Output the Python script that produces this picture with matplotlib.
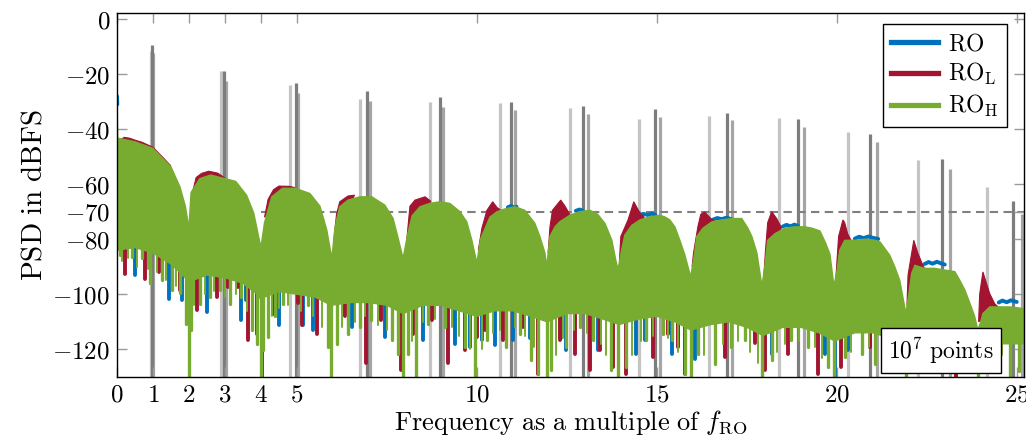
import numpy as np
import matplotlib.pyplot as plt
from matplotlib.lines import Line2D

plt.rcParams['mathtext.fontset'] = 'cm'
plt.rcParams['font.family'] = 'serif'
plt.rcParams['font.size'] = 17

# colours of the three readout variants
c_ro = '#0072BD'
c_rol = '#A2142F'
c_roh = '#77AC30'

# upper envelope of the PSD (RO_H), frequency in multiples of f_RO, level in dBFS
env_x = [0.0, 0.02, 0.5, 1.0, 1.5, 1.75, 1.9, 2.0,
         2.06, 2.3, 2.6, 3.0, 3.3, 3.6, 3.8, 3.95, 4.0,
         4.1, 4.3, 4.6, 4.95, 5.36, 5.64, 5.83, 5.97,
         6.06, 6.19, 6.42, 6.75, 7.08, 7.44, 7.67, 7.8, 7.95,
         8.08, 8.2, 8.42, 8.69, 8.97, 9.25, 9.53, 9.72, 9.86, 10.0,
         10.1, 10.36, 10.56, 10.78, 11.06, 11.33, 11.61, 11.75, 11.89, 11.94,
         12.03, 12.17, 12.3, 12.58, 12.86, 13.14, 13.36, 13.56, 13.75, 13.86, 13.92,
         14.02, 14.11, 14.3, 14.53, 14.8, 15.08, 15.22, 15.36, 15.5, 15.64, 15.78, 15.94,
         16.04, 16.11, 16.28, 16.53, 16.8, 17.08, 17.36, 17.53, 17.64, 17.78, 17.92,
         18.0, 18.08, 18.28, 18.56, 18.83, 19.11, 19.31, 19.53, 19.69, 19.81, 19.92,
         20.0, 20.08, 20.22, 20.5, 20.78, 21.06, 21.2, 21.33, 21.47, 21.61, 21.75, 21.92,
         22.0, 22.08, 22.17, 22.44, 22.72, 23.0, 23.28, 23.42, 23.56, 23.69, 23.83, 23.92,
         24.0, 24.06, 24.25, 24.53, 24.8, 25.2]
ro_h_top = [-29.5, -43.3, -44.6, -47.0, -53.7, -61.0, -68.0, -76.0,
            -63.0, -58.0, -56.7, -58.0, -59.0, -64.0, -70.5, -80.0, -83.0,
            -74.0, -64.6, -61.5, -61.5, -63.4, -68.0, -76.7, -87.0,
            -75.5, -68.2, -65.8, -64.6, -64.6, -67.6, -72.4, -79.0, -87.0,
            -78.0, -71.5, -68.2, -67.0, -66.4, -67.0, -70.0, -73.7, -80.4, -88.7,
            -80.0, -72.0, -70.0, -69.0, -68.2, -69.5, -74.2, -79.0, -85.0, -90.0,
            -79.0, -75.5, -73.7, -71.3, -70.0, -69.5, -71.0, -74.3, -80.4, -87.6, -91.0,
            -84.0, -78.5, -75.0, -73.0, -71.9, -71.3, -71.9, -73.0, -75.5, -80.4, -85.8, -93.7,
            -86.0, -79.0, -76.0, -73.7, -73.0, -72.5, -72.5, -76.0, -79.0, -85.0, -97.0,
            -90.0, -80.4, -78.0, -76.0, -75.5, -75.5, -76.0, -77.0, -81.4, -85.5, -97.0,
            -92.0, -84.0, -80.4, -80.4, -80.0, -80.4, -81.0, -83.3, -85.8, -90.0, -95.0, -107.0,
            -100.0, -92.4, -89.5, -90.6, -90.6, -91.2, -91.8, -95.0, -98.5, -103.0, -108.0, -113.0,
            -110.0, -107.0, -104.6, -104.6, -104.6, -105.2]

# lower edge of the noise band
floor_x = [0.0, 0.5, 1.0, 1.5, 1.9, 2.0, 2.1, 2.5, 3.0, 3.5, 3.9, 4.0, 4.1, 4.5, 5.0, 5.5,
           5.95, 6.5, 7.0, 7.5, 7.95, 8.5, 9.0, 9.5, 10.0, 10.5, 11.0, 11.5, 11.95, 12.5,
           13.0, 13.5, 13.95, 14.5, 15.0, 15.5, 15.95, 16.5, 17.0, 17.5, 17.95, 18.5, 19.0,
           19.5, 19.95, 20.5, 21.0, 21.5, 21.95, 22.5, 23.0, 23.5, 23.95, 24.5, 25.2]
floor_y = [-84, -83, -85, -89, -94, -97, -95, -93, -94, -96, -100, -102, -101, -99, -100, -101,
           -104, -103, -103, -104, -107, -104, -104, -106, -108, -106, -106, -108, -110, -107,
           -107, -109, -111, -109, -108, -110, -113, -111, -110, -112, -115, -112, -112,
           -114, -117, -114, -114, -116, -119, -116, -116, -118, -121, -118, -118]

# deep dips below the noise band
ro_h_dip_x = [0.08, 0.41, 0.7, 0.92, 1.24, 1.52, 1.75, 1.92, 2.0, 2.07, 2.3, 2.58, 2.86, 3.14,
              3.45, 3.74, 3.88, 3.99, 4.06, 4.2, 4.39, 4.62, 4.85, 5.32, 5.87, 5.96, 6.1,
              6.43, 6.75, 7.07, 7.63, 7.82, 7.95, 8.09, 8.32, 8.65, 9.11, 9.67, 9.94, 10.27,
              10.82, 11.19, 11.5, 11.7, 11.94, 12.07, 12.49, 12.86, 13.23, 13.74, 13.93, 14.15,
              14.71, 15.18, 15.41, 15.78, 15.94, 16.15, 16.61, 17.07, 17.44, 17.91, 18.19,
              18.74, 19.2, 19.76, 19.93, 20.22, 20.69, 21.06, 21.5, 21.92, 22.5, 23.2, 23.92,
              24.8, 25.05]
ro_h_dip_y = [-85.8, -86.4, -87, -96, -94.9, -98.5, -99.5, -110.7, -130, -113, -103.4, -101,
              -98.5, -103.4, -101, -113, -118, -130, -120.4, -115.5, -108, -103.4, -99, -104,
              -119, -130, -118, -114.3, -111.9, -109.5, -116.7, -121.6, -130, -121.6, -130,
              -110.7, -111.9, -119, -130, -116.7, -119, -114.3, -124, -128.8, -130, -127.6,
              -119, -111.8, -116.7, -127.6, -130, -126.4, -116.7, -114.3, -116.7, -128.8, -130,
              -121.6, -125.2, -119, -116.7, -130, -124, -116.7, -119, -126.4, -130, -122.8,
              -121.6, -125.2, -124, -130, -125, -124, -130, -130, -128]

# thinner fingers of the RO_H noise band
ro_h_fine_x = [0.15, 0.3, 0.55, 0.85, 1.1, 1.35, 1.65, 2.15, 2.45, 2.7, 3.0, 3.3, 3.6,
               4.3, 4.5, 4.75, 5.1, 5.45, 5.7, 6.25, 6.6, 6.9, 7.25, 7.5, 8.2, 8.5, 8.85,
               9.3, 9.5, 9.8, 10.15, 10.45, 10.65, 11.05, 11.35, 11.6, 12.2, 12.4, 12.7,
               13.05, 13.45, 13.6, 14.3, 14.55, 14.9, 15.3, 15.6, 16.3, 16.85, 17.25, 17.6,
               17.8, 18.35, 18.55, 18.95, 19.4, 19.6, 20.4, 20.9, 21.3, 21.7, 22.3, 22.9,
               23.5, 24.3, 24.6]
ro_h_fine_y = [-88, -87, -90, -91, -92, -95, -97, -104, -100, -99, -101, -100, -106,
               -108, -105, -104, -106, -108, -112, -112, -110, -108, -111, -113, -117, -110,
               -109, -112, -115, -120, -120, -114, -113, -112, -115, -119, -122, -116, -113,
               -114, -118, -122, -122, -117, -115, -116, -121, -122, -118, -117, -121,
               -125, -121, -118, -117, -119, -123, -121, -119, -121, -124, -122, -121,
               -124, -124, -122]

ro_l_dip_x = [0.22, 0.78, 1.18, 1.75, 2.23, 2.77, 3.09, 3.37, 3.65, 3.88, 4.02, 4.34, 4.8,
              5.04, 5.13, 5.55, 6.33, 6.93, 7.33, 7.9, 8.23, 8.74, 9.2, 9.67, 10.0, 10.22,
              10.73, 11.28, 11.7, 12.3, 12.72, 13.14, 13.42, 13.79, 14.15, 14.9, 15.31, 15.59,
              15.78, 16.89, 17.72, 18.0, 18.65, 19.48, 20.13, 20.92, 22.2, 23.3, 24.2]
ro_l_dip_y = [-92.5, -94.3, -91.9, -98.5, -105.8, -101, -97.3, -97.3, -116.7, -114.3, -130,
              -107, -98.5, -103, -111, -114.3, -108, -125, -109.5, -127.6, -114.3, -109.5, -125,
              -120.4, -115.5, -113, -116.7, -111.8, -128.8, -116.7, -121.6, -127.6, -120.4,
              -126.4, -128.8, -122.8, -114.3, -119, -128.8, -122.8, -117.8, -127.6, -121.6,
              -128.8, -126.4, -119, -128, -130, -126]

ro_dip_x = [0.5, 1.45, 1.8, 2.51, 3.44, 3.58, 4.51, 5.18, 5.45, 6.52, 7.45, 8.5, 9.39, 9.81,
            10.13, 10.5, 11.0, 11.47, 12.35, 12.49, 13.37, 14.43, 14.66, 15.41, 16.06, 18.19,
            19.67, 19.95, 20.31, 21.5, 23.0]
ro_dip_y = [-93, -101.6, -102.2, -106.4, -109.4, -102.2, -111, -111, -113, -111.8, -115.5,
            -116.7, -118, -119, -116.7, -118.5, -116.7, -116, -116, -120.4, -120.4, -121.6,
            -116.7, -121.6, -123.4, -121.6, -121.6, -130, -120.4, -127, -128]

# RO_L rises above RO_H on the lower edge of each lobe
ro_l_humps = [
    [(0.1, -43.9), (0.2, -43.0), (0.35, -43.3), (0.5, -44.0), (0.7, -44.8), (1.0, -46.6), (1.3, -50.6), (1.5, -53.4)],
    [(2.08, -64), (2.2, -57.6), (2.35, -56.1), (2.55, -55.3), (2.8, -56.0), (3.0, -57.8)],
    [(4.1, -72), (4.2, -65.5), (4.35, -62.0), (4.5, -60.7), (4.8, -60.8), (4.95, -61.3)],
    [(6.03, -80), (6.1, -71), (6.19, -66.4), (6.42, -64.3), (6.6, -64)],
    [(8.04, -82), (8.14, -68), (8.28, -65.8), (8.56, -64.6), (8.72, -66.2)],
    [(10.04, -84), (10.14, -76), (10.28, -69.5), (10.44, -66.4), (10.56, -68.5), (10.65, -69.3)],
    [(11.98, -85), (12.03, -75.6), (12.1, -69.5), (12.33, -65.8), (12.45, -68), (12.58, -71)],
    [(13.96, -88), (14.0, -79), (14.2, -73), (14.36, -66.4), (14.53, -70.5), (14.65, -72)],
    [(15.98, -90), (16.02, -85), (16.14, -75.5), (16.22, -71), (16.33, -70.1), (16.5, -72.5), (16.6, -73.3)],
    [(17.97, -94), (18.02, -84), (18.08, -74), (18.19, -70), (18.33, -72.5), (18.46, -75.8)],
    [(19.97, -95), (20.05, -79), (20.17, -73), (20.22, -74), (20.3, -78), (20.4, -80.5)],
    [(21.95, -104), (21.98, -93), (22.14, -80.4), (22.25, -85), (22.36, -88.5), (22.44, -90.8)],
    [(23.94, -110), (23.97, -100), (24.06, -91.9), (24.25, -99.8), (24.39, -103.5), (24.5, -104.8)],
]

# RO just above RO_H on the flat tops of the lobes
ro_tops = [
    [(0.0, -28.0), (0.01, -31)],
    [(10.86, -68.4), (10.95, -67.9), (11.02, -68.5), (11.1, -68.2)],
    [(12.75, -69.7), (12.85, -69.2), (12.94, -69.6)],
    [(14.5, -71.3), (14.62, -70.8), (14.75, -71.2), (14.86, -70.7), (14.96, -71.2)],
    [(16.56, -72.9), (16.68, -72.3), (16.8, -72.7), (16.93, -72.2), (17.07, -72.7)],
    [(18.5, -75.4), (18.6, -74.8), (18.72, -75.3), (18.82, -74.7), (18.92, -75.2)],
    [(20.5, -79.8), (20.62, -79.1), (20.75, -79.6), (20.88, -79.0), (21.0, -79.5), (21.15, -79.9)],
    [(22.44, -89.0), (22.55, -88.3), (22.66, -88.9), (22.78, -88.2), (22.9, -88.8), (23.0, -89.2)],
    [(24.5, -103.0), (24.6, -102.3), (24.72, -102.9), (24.84, -102.2), (25.0, -102.8)],
]

# harmonic spurs of the three reference tones
spur_a_x = [0.94, 2.88, 4.82, 6.75, 8.69, 10.63, 12.58, 14.5, 16.44, 18.39, 20.3, 22.25, 24.17]
spur_a_y = [-11.5, -19, -23.8, -29, -30.1, -30.4, -32.4, -36.4, -35.3, -36, -40.9, -51.2, -61]
spur_b_x = [0.97, 2.97, 4.97, 6.96, 8.97, 10.94, 12.95, 14.94, 16.94, 18.92, 20.92, 22.92, 24.9]
spur_b_y = [-9.5, -19, -23.4, -26.3, -28.5, -30.3, -31.6, -32.8, -34.2, -36.5, -41.6, -50.8, -66.3]
spur_c_x = [1.0, 3.02, 5.03, 7.04, 9.05, 11.05, 13.08, 15.1, 17.1, 19.1, 21.13, 23.14, 25.15]
spur_c_y = [-12.5, -22.7, -27, -29.7, -31.9, -33.2, -34.6, -35.7, -36.8, -39.3, -44.6, -54.4, -71]

x_ticks = [0, 1, 2, 3, 4, 5, 10, 15, 20, 25]
y_ticks = [0, -20, -40, -60, -70, -80, -100, -120]
y_min, y_max = -130, 2.2
x_max = 25.2

fig, ax = plt.subplots(figsize=(10.26, 4.47), dpi=100)
fig.subplots_adjust(left=0.114, right=0.998, bottom=0.157, top=0.971)

# spurs and the -70 dBFS reference sit behind the spectra
ax.vlines(spur_a_x, y_min, spur_a_y, colors='#c4c4c4', lw=2.3, zorder=1)
ax.vlines(spur_c_x, y_min, spur_c_y, colors='#a5a5a5', lw=2.3, zorder=1)
ax.vlines(spur_b_x, y_min, spur_b_y, colors='#7d7d7d', lw=2.3, zorder=1)
ax.hlines(-70, 4.0, x_max, colors='#7f7f7f', lw=1.5, linestyles=(0, (4, 2.6)), zorder=1.5)

fl_x = np.array(floor_x, dtype=float)
fl_y = np.array(floor_y, dtype=float)

def dips(xs, ys, color, lw, z):
    base = np.interp(xs, fl_x, fl_y) + 4
    ax.vlines(xs, ys, base, colors=color, lw=lw, capstyle='round', zorder=z)

# RO
dips(ro_dip_x, ro_dip_y, c_ro, 2.8, 2)
for seg in ro_tops:
    sx, sy = zip(*seg)
    ax.plot(sx, sy, color=c_ro, lw=2.8, solid_capstyle='round', zorder=2)

# RO_L
dips(ro_l_dip_x, ro_l_dip_y, c_rol, 2.8, 3)
for hump in ro_l_humps:
    hx, hy = zip(*hump)
    ax.fill(hx, hy, color=c_rol, lw=0.8, zorder=3)

# RO_H on top
px = np.concatenate([env_x, fl_x[::-1]])
py = np.concatenate([ro_h_top, fl_y[::-1]])
ax.fill(px, py, facecolor=c_roh, edgecolor=c_roh, lw=1.0, zorder=4)
dips(ro_h_dip_x, ro_h_dip_y, c_roh, 2.4, 4)
dips(ro_h_fine_x, ro_h_fine_y, c_roh, 1.4, 4)

ax.set_xlim(0, x_max)
ax.set_ylim(y_min, y_max)
ax.set_xticks(x_ticks)
ax.set_xticklabels([rf'${t}$' for t in x_ticks])
ax.set_yticks(y_ticks)
ax.set_yticklabels([rf'${t}$' for t in y_ticks])
ax.tick_params(direction='in', length=7, width=1, color='#9a9a9a',
               top=True, right=True, labelsize=18, pad=5)
for sp in ax.spines.values():
    sp.set_linewidth(1.0)
    sp.set_zorder(10)

ax.set_xlabel(r'$\mathrm{Frequency\ as\ a\ multiple\ of}\ f_{\mathrm{RO}}$', fontsize=19, labelpad=1)
ax.set_ylabel(r'$\mathrm{PSD\ in\ dBFS}$', fontsize=21, labelpad=3)

handles = [Line2D([], [], color=c_ro, lw=3.8),
           Line2D([], [], color=c_rol, lw=3.8),
           Line2D([], [], color=c_roh, lw=3.8)]
labels = [r'$\mathrm{RO}$', r'$\mathrm{RO}_{\mathrm{L}}$', r'$\mathrm{RO}_{\mathrm{H}}$']
leg = ax.legend(handles, labels, loc='upper right', bbox_to_anchor=(0.981, 0.970),
                borderaxespad=0, fancybox=False, framealpha=1, edgecolor='black',
                fontsize=17, handlelength=2.0, handletextpad=0.4, labelspacing=0.25,
                borderpad=0.35)
leg.get_frame().set_linewidth(1.0)
leg.set_zorder(20)

ax.text(22.9, -120.4, r'$10^7\ \mathrm{points}$', ha='center', va='center', fontsize=17,
        zorder=20, bbox=dict(boxstyle='square,pad=0.3', fc='white', ec='black', lw=1.0))

fig.savefig('out.png', dpi=100)
